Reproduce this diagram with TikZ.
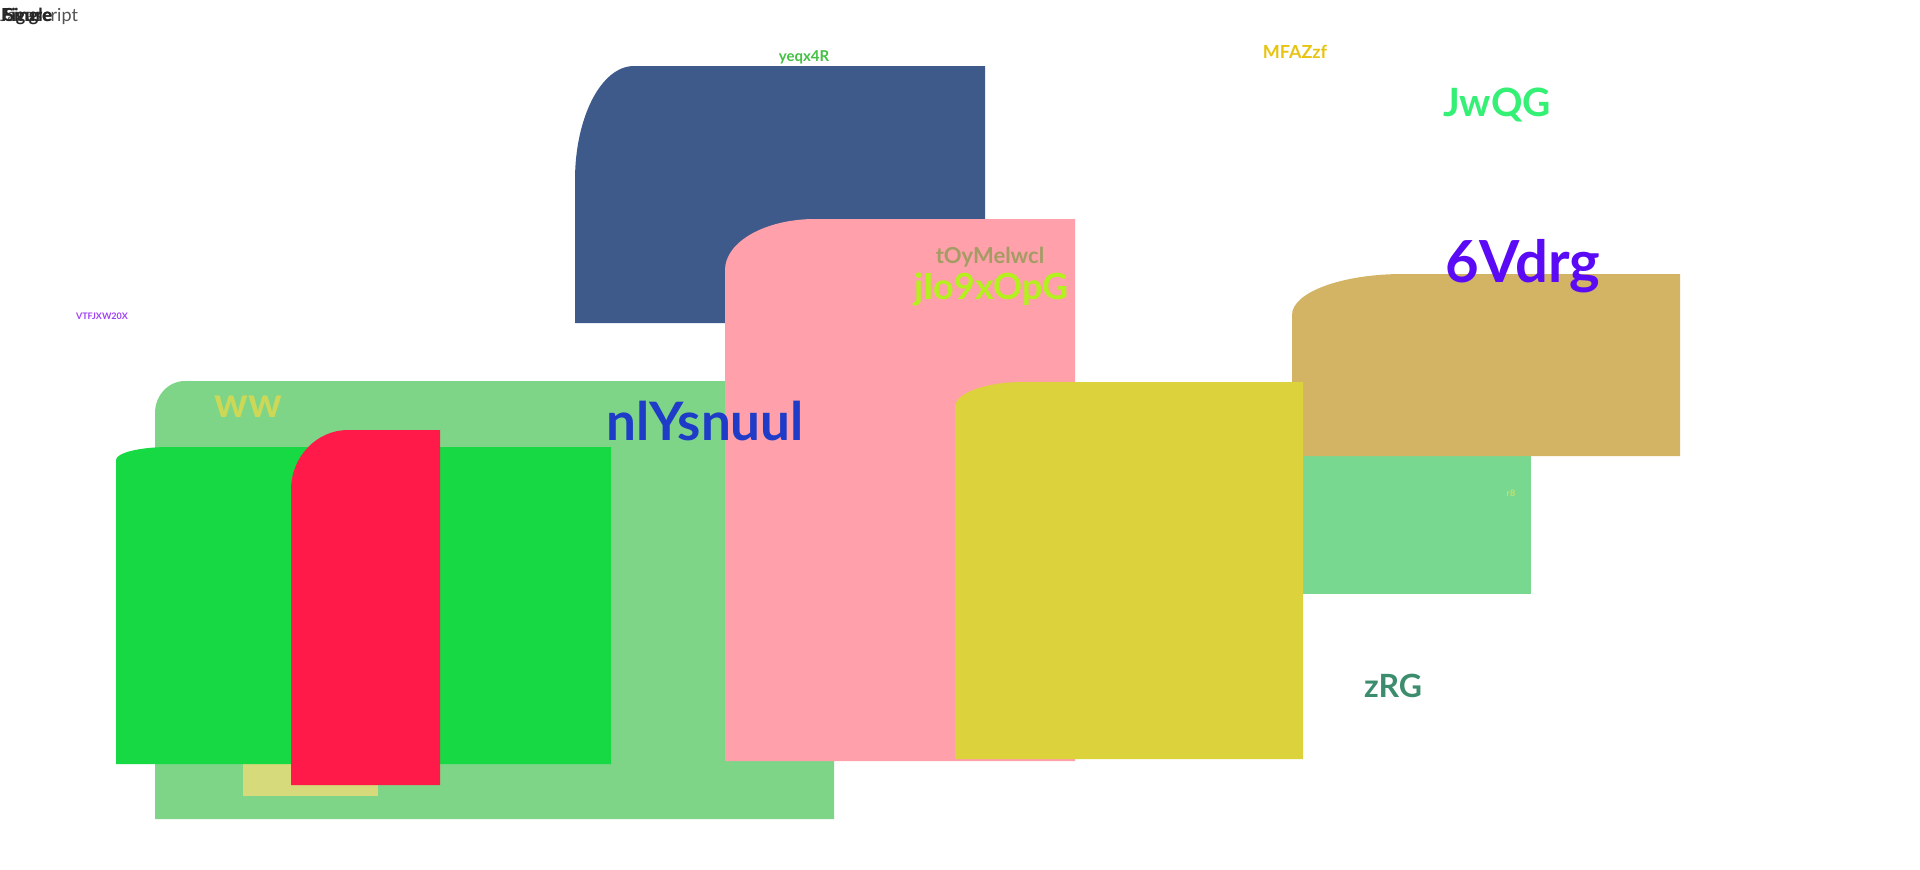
\documentclass[tikz,border=0pt]{standalone}
\usepackage{fontspec}
\setmainfont{Lato}
\definecolor{slate}{HTML}{3E5A8A}
\definecolor{rose}{HTML}{FFA0AA}
\definecolor{mint}{HTML}{7ED588}
\definecolor{lime}{HTML}{16D944}
\definecolor{crimson}{HTML}{FF1A4A}
\definecolor{straw}{HTML}{D6DA7A}
\definecolor{mustard}{HTML}{DCD23C}
\definecolor{sand}{HTML}{D2B464}
\definecolor{jade}{HTML}{78D890}
\tikzset{
    lbl/.style={anchor=base, inner sep=0pt, font=\bfseries},
}
\begin{document}
\begin{tikzpicture}[x=1pt, y=-1pt]
            \fill[white] (0, 0) rectangle (1920, 870);
            \useasboundingbox (0, 0) rectangle (1920, 870);
            % boxes, back to front
            \fill[slate]
                (575, 323) -- (575, 180)
                arc[start angle=180, end angle=270, x radius=59, y radius=114]
                -- (985, 66) -- (985, 323) -- cycle;
            \fill[mint]
                (155, 819) -- (155, 413)
                arc[start angle=180, end angle=270, x radius=30, y radius=32]
                -- (834, 381) -- (834, 819) -- cycle;
            \fill[straw]
                (243, 700) rectangle (378, 796);
            \fill[lime]
                (116, 764) -- (116, 460)
                arc[start angle=180, end angle=270, x radius=53, y radius=13]
                -- (611, 447) -- (611, 764) -- cycle;
            \fill[crimson]
                (291, 785) -- (291, 490)
                arc[start angle=180, end angle=270, x radius=57, y radius=60]
                -- (440, 430) -- (440, 785) -- cycle;
            \fill[rose]
                (725, 761) -- (725, 270)
                arc[start angle=180, end angle=270, x radius=90, y radius=51]
                -- (1075, 219) -- (1075, 761) -- cycle;
            \fill[jade]
                (1290, 456) rectangle (1531, 594);
            \fill[sand]
                (1292, 456) -- (1292, 315)
                arc[start angle=180, end angle=270, x radius=111, y radius=41]
                -- (1680, 274) -- (1680, 456) -- cycle;
            \fill[mustard]
                (955, 759) -- (955, 407)
                arc[start angle=180, end angle=270, x radius=68, y radius=25]
                -- (1303, 382) -- (1303, 759) -- cycle;
            % labels
            \node[lbl, anchor=base west, font=\fontsize{18}{20}\selectfont, text=black!67] (js) at (0, 21) {Javascript};
            \node[lbl, anchor=base west, font=\bfseries\fontsize{18}{20}\selectfont, text=black!85] (fig) at (1, 21) {Figure};
            \node[lbl, anchor=base west, font=\bfseries\fontsize{18}{20}\selectfont, text=black!85] (sgl) at (4, 21) {Single};
            \node[lbl, font=\bfseries\fontsize{15}{17}\selectfont, text={rgb,255:red,68;green,192;blue,68}] (yeq) at (804, 61) {yeqx4R};
            \node[lbl, font=\bfseries\fontsize{18}{20}\selectfont, text={rgb,255:red,232;green,196;blue,18}] (mfa) at (1295, 58) {MFAZzf};
            \node[lbl, font=\bfseries\fontsize{39}{42}\selectfont, text={rgb,255:red,52;green,240;blue,117}] (jwq) at (1497, 116) {JwQG};
            \node[lbl, font=\bfseries\fontsize{22}{24}\selectfont, text={rgb,255:red,164;green,156;blue,100}] (toy) at (990, 263) {tOyMelwcl};
            \node[lbl, font=\bfseries\fontsize{36}{38}\selectfont, text={rgb,255:red,180;green,240;blue,30}] (jio) at (992, 299) {jIo9xOpG};
            \node[lbl, font=\bfseries\fontsize{58}{60}\selectfont, text={rgb,255:red,90;green,10;blue,245}] (six) at (1523, 282) {6Vdrg};
            \node[lbl, font=\bfseries\fontsize{9}{10}\selectfont, text={rgb,255:red,160;green,64;blue,248}] (vtf) at (102, 319) {VTFJXW20X};
            \node[lbl, font=\bfseries\fontsize{42}{44}\selectfont, text={rgb,255:red,204;green,216;blue,86}] (ww) at (248, 417) {ww};
            \node[lbl, font=\bfseries\fontsize{53}{56}\selectfont, text={rgb,255:red,30;green,60;blue,200}] (nly) at (705, 440) {nlYsnuul};
            \node[lbl, font=\bfseries\fontsize{9}{10}\selectfont, text={rgb,255:red,200;green,224;blue,100}] (r8) at (1511, 496) {r8};
            \node[lbl, font=\bfseries\fontsize{32}{34}\selectfont, text={rgb,255:red,60;green,140;blue,110}] (zrg) at (1393, 697) {zRG};
        \end{tikzpicture}
\end{document}
